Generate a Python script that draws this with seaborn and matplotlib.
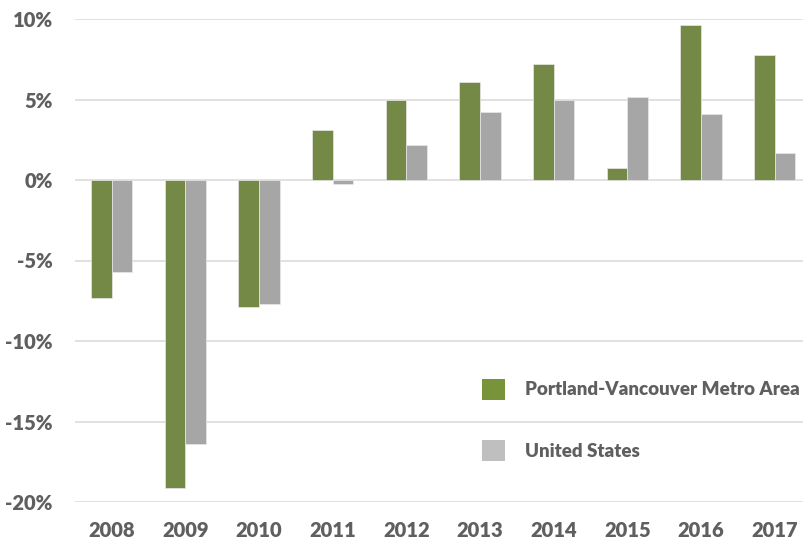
import pandas as pd
import numpy as np
import matplotlib
matplotlib.use("Agg")
import matplotlib.pyplot as plt
from matplotlib.patches import Patch
import seaborn as sns

# values (annual % change)
years = ["2008", "2009", "2010", "2011", "2012", "2013", "2014", "2015", "2016", "2017"]
portland = [-7.3, -19.1, -7.9, 3.1, 5.0, 6.1, 7.2, 0.75, 9.6, 7.75]
us = [-5.7, -16.4, -7.7, -0.25, 2.15, 4.2, 5.0, 5.15, 4.1, 1.7]
series_names = ["Portland-Vancouver Metro Area", "United States"]
yticks = [-20, -15, -10, -5, 0, 5, 10]

green = "#78943a"
gray = "#a6a6a6"
gray_legend = "#bfbfbf"
text_color = "#5f5f5f"

df = pd.DataFrame({
    "year": years * 2,
    "value": portland + us,
    "series": [series_names[0]] * len(years) + [series_names[1]] * len(years),
})

sns.set_style("white")
plt.rcParams["font.family"] = ["Lato", "DejaVu Sans"]

fig = plt.figure(figsize=(8.04, 5.42), dpi=100)
ax = fig.add_axes([75 / 804, 1 - 502 / 542, 1 - 75 / 804, (502 - 19) / 542])

sns.barplot(data=df, x="year", y="value", hue="series",
            palette=[green, gray], width=0.56, gap=0,
            edgecolor="#e8e8e8", linewidth=0.5, legend=False, ax=ax, zorder=3)

ax.set_ylim(-20, 10)
ax.set_xlim(-0.5, 9.4)
ax.set_yticks(yticks)
ax.set_yticklabels([f"{t}%" for t in yticks])
ax.yaxis.grid(True, color="#dcdcdc", linewidth=1.2, zorder=0)
ax.set_axisbelow(True)
for s in ax.spines.values():
    s.set_visible(False)
ax.set_xlabel("")
ax.set_ylabel("")
ax.tick_params(axis="both", length=0, labelsize=14.5, labelcolor=text_color)
ax.tick_params(axis="y", pad=16)
ax.tick_params(axis="x", pad=14)
for lab in ax.get_xticklabels() + ax.get_yticklabels():
    lab.set_fontweight("heavy")

handles = [Patch(facecolor=green, edgecolor="none"),
           Patch(facecolor=gray_legend, edgecolor="none")]
leg = ax.legend(handles, series_names, loc="upper left",
                bbox_to_anchor=(0.535, 0.29), frameon=False,
                handlelength=1.22, handleheight=1.33, handletextpad=1.1,
                labelspacing=2.15, prop={"weight": "heavy", "size": 13.5})
for t in leg.get_texts():
    t.set_color(text_color)

fig.savefig("out.png", dpi=100)
